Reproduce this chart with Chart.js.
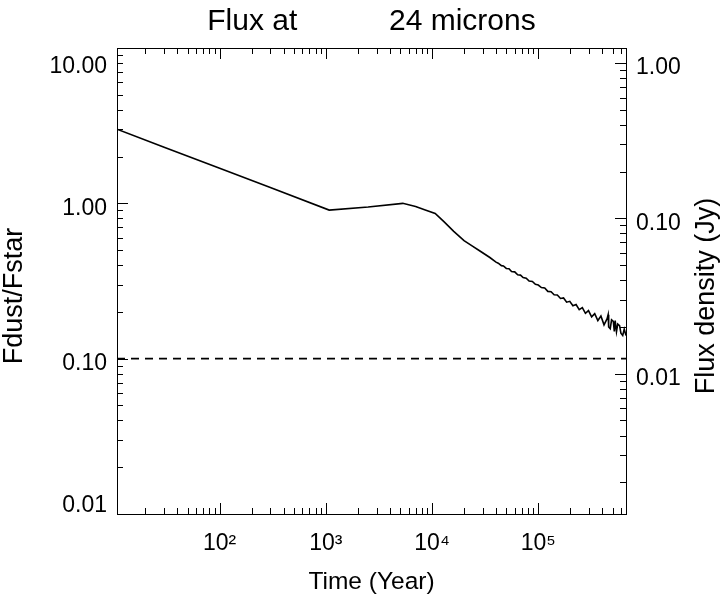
<!DOCTYPE html>
<html>
<head>
<meta charset="utf-8">
<script src="https://cdn.jsdelivr.net/npm/chart.js@4/dist/chart.umd.min.js"></script>
<style>
html,body{margin:0;padding:0;background:#fff;overflow:hidden}
canvas{display:block}
</style>
</head>
<body>
<canvas id="c" width="723" height="602" style="width:723px;height:602px"></canvas>
<script>
// ---- data ----
const timeYears = [10.8, 30, 100, 300, 1075, 2500, 5300, 7000, 8500, 10700, 13000, 16000, 20000, 24000, 28000, 35000,
  40000, 42000, 45000, 47000, 50000, 53000, 56000, 60000, 64000, 68000, 72000, 77000, 82000, 88000, 94000,
  100000, 107000, 115000, 123000, 132000, 141000, 151000, 162000, 173000, 185000, 198000, 212000, 227000,
  243000, 260000, 278000, 297000, 318000, 340000, 364000, 389000, 416000, 445000, 455000, 460000, 476000,
  490000, 509000, 520000, 530000, 545000, 560000, 583000, 600000, 624000, 645000, 670000];
const fluxRatio = [3.00, 2.30, 1.68, 1.264, 0.905, 0.947, 1.00, 0.955, 0.91, 0.86, 0.76, 0.66, 0.575, 0.53, 0.495, 0.448,
  0.418, 0.412, 0.397, 0.395, 0.381, 0.379, 0.364, 0.362, 0.347, 0.345, 0.333, 0.330, 0.316, 0.314, 0.301,
  0.298, 0.287, 0.285, 0.271, 0.270, 0.258, 0.257, 0.244, 0.246, 0.231, 0.234, 0.219, 0.223,
  0.207, 0.213, 0.196, 0.204, 0.186, 0.195, 0.176, 0.188, 0.165, 0.181, 0.192, 0.160, 0.156,
  0.178, 0.174, 0.150, 0.176, 0.149, 0.167, 0.163, 0.146, 0.141, 0.155, 0.141];
const thresholdRatio = 0.1;
const timeRange = [10.8, 670000];
const ratioRange = [0.01, 10];
const starFluxJy = 0.125;

const timeTickExponents = [2, 3, 4, 5];
const timeTickLabels = ['10\u00B2', '10\u00B3', '10\u2074', '10\u2075'];
const ratioTickExponents = [-2, -1, 0, 1];
const ratioTickLabels = ['0.01', '0.10', '1.00', '10.00'];
const fluxTickExponents = [-2, -1, 0];
const fluxTickLabels = ['0.01', '0.10', '1.00'];

const titleText = 'Flux at           24 microns';
const xTitle = 'Time (Year)';
const yTitle = 'Fdust/Fstar';
const y2Title = 'Flux density (Jy)';

// ---- helpers ----
const FONT = "'Liberation Sans', 'DejaVu Sans', Arial, sans-serif";
function logTicks(min, max) {
  const out = [];
  const e0 = Math.floor(Math.log10(min)) - 1, e1 = Math.ceil(Math.log10(max)) + 1;
  for (let e = e0; e <= e1; e++) {
    for (let m = 1; m <= 9; m++) {
      const v = m * Math.pow(10, e);
      if (v >= min * (1 - 1e-9) && v <= max * (1 + 1e-9)) out.push({value: v, major: m === 1});
    }
  }
  return out;
}
function decadeLabel(value, exps, labels) {
  const l = Math.log10(value), e = Math.round(l);
  if (Math.abs(l - e) > 1e-6) return '';
  const i = exps.indexOf(e);
  return i < 0 ? '' : labels[i];
}

const insideTicks = {
  id: 'insideTicks',
  afterDraw(chart) {
    const {ctx, chartArea: a} = chart;
    ctx.save();
    ctx.strokeStyle = '#000';
    ctx.lineWidth = 1;
    const defs = [['x', 'bottom'], ['xTop', 'top'], ['y', 'left'], ['yFlux', 'right']];
    for (const [id, side] of defs) {
      const s = chart.scales[id];
      for (const t of s.ticks) {
        const len = t.major ? 11 : 6;
        const p = Math.round(s.getPixelForValue(t.value)) + 0.5;
        ctx.beginPath();
        if (side === 'bottom') { ctx.moveTo(p, a.bottom); ctx.lineTo(p, a.bottom - len); }
        else if (side === 'top') { ctx.moveTo(p, a.top); ctx.lineTo(p, a.top + len); }
        else if (side === 'left') { ctx.moveTo(a.left, p); ctx.lineTo(a.left + len, p); }
        else { ctx.moveTo(a.right, p); ctx.lineTo(a.right - len, p); }
        ctx.stroke();
      }
    }
    // vertical axis titles, both reading bottom-to-top as in the reference
    const midY = (a.top + a.bottom) / 2 + 15;
    ctx.fillStyle = '#000';
    ctx.font = '27px ' + FONT;
    ctx.textAlign = 'center';
    ctx.textBaseline = 'middle';
    const lx = chart.scales.y.left + 15;
    const rx = chart.scales.yFlux.right - 16;
    ctx.save(); ctx.translate(lx, midY); ctx.rotate(-Math.PI / 2); ctx.fillText(yTitle, 0, 0); ctx.restore();
    ctx.save(); ctx.translate(rx, midY); ctx.rotate(-Math.PI / 2); ctx.fillText(y2Title, 0, 0); ctx.restore();
    ctx.restore();
  }
};

Chart.defaults.color = '#000';
Chart.defaults.font.family = FONT;

const border = {display: true, color: '#000', width: 1};
const noGrid = {display: false, drawTicks: false};

new Chart(document.getElementById('c'), {
  type: 'line',
  data: {
    datasets: [
      {
        data: timeYears.map((t, i) => ({x: t, y: fluxRatio[i]})),
        borderColor: '#000', borderWidth: 1.6, pointRadius: 0, tension: 0,
        xAxisID: 'x', yAxisID: 'y'
      },
      {
        data: [{x: timeRange[0], y: thresholdRatio}, {x: timeRange[1], y: thresholdRatio}],
        borderColor: '#000', borderWidth: 1.7, borderDash: [8, 6], pointRadius: 0,
        xAxisID: 'x', yAxisID: 'y'
      }
    ]
  },
  options: {
    responsive: false,
    animation: false,
    events: [],
    layout: {padding: 0},
    plugins: {
      legend: {display: false},
      tooltip: {enabled: false},
      title: {
        display: true, text: titleText, fullSize: false, color: '#000',
        font: {family: FONT, size: 30, weight: 'normal', lineHeight: 1.2},
        padding: {top: 4, bottom: 8}
      }
    },
    scales: {
      x: {
        type: 'logarithmic', position: 'bottom', min: timeRange[0], max: timeRange[1],
        grid: noGrid, border,
        afterBuildTicks: s => { s.ticks = logTicks(s.min, s.max); },
        afterFit: s => { s.height = 88; },
        ticks: {
          autoSkip: false, maxRotation: 0, minRotation: 0, padding: 16,
          font: {family: FONT, size: 23, lineHeight: 1.2},
          callback: v => decadeLabel(v, timeTickExponents, timeTickLabels)
        },
        title: {display: true, text: xTitle, font: {family: FONT, size: 24.5, lineHeight: 1.2}, padding: {top: 0, bottom: 5}}
      },
      xTop: {
        type: 'logarithmic', position: 'top', min: timeRange[0], max: timeRange[1],
        grid: noGrid, border,
        afterBuildTicks: s => { s.ticks = logTicks(s.min, s.max); },
        afterFit: s => { s.height = 0; },
        ticks: {display: false, autoSkip: false}
      },
      y: {
        type: 'logarithmic', position: 'left', min: ratioRange[0], max: ratioRange[1],
        grid: noGrid, border,
        afterBuildTicks: s => { s.ticks = logTicks(s.min, s.max); },
        afterFit: s => { s.width = 117; },
        ticks: {
          autoSkip: false, padding: 10, labelOffset: 5,
          font: {family: FONT, size: 23, lineHeight: 1.2},
          callback: function (v) {
            const lab = decadeLabel(v, ratioTickExponents, ratioTickLabels);
            if (lab && Math.abs(v - ratioRange[1]) < 1e-9) return ['', lab];
            if (lab && Math.abs(v - ratioRange[0]) < 1e-12) return [lab, ''];
            return lab;
          }
        },
        title: {display: false}
      },
      yFlux: {
        type: 'logarithmic', position: 'right',
        min: ratioRange[0] * starFluxJy, max: ratioRange[1] * starFluxJy,
        grid: noGrid, border,
        afterBuildTicks: s => { s.ticks = logTicks(s.min, s.max); },
        afterFit: s => { s.width = 97; },
        ticks: {
          autoSkip: false, padding: 10, labelOffset: 5,
          font: {family: FONT, size: 23, lineHeight: 1.2},
          callback: v => decadeLabel(v, fluxTickExponents, fluxTickLabels)
        },
        title: {display: false}
      }
    }
  },
  plugins: [insideTicks]
});
</script>
</body>
</html>
